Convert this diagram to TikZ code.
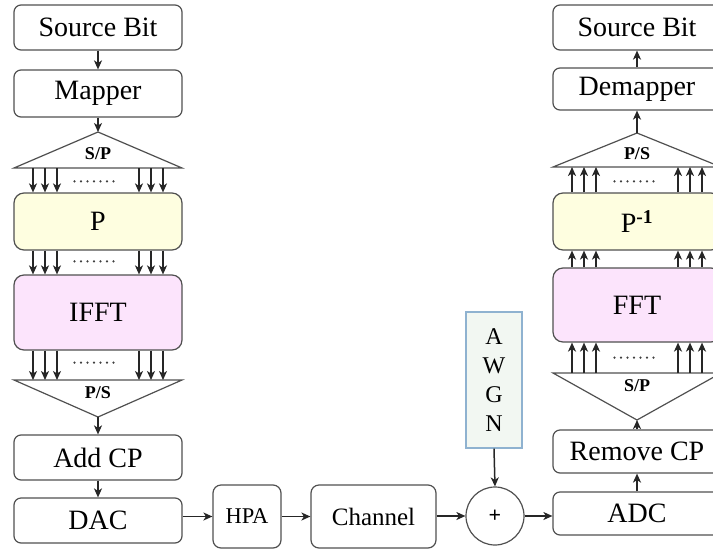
\documentclass[tikz,border=0pt]{standalone}
\usepackage{fontspec}
\setmainfont{Liberation Serif}
\usetikzlibrary{arrows.meta,calc}
\definecolor{bd}{HTML}{505050}
\definecolor{pyel}{HTML}{FEFEE0}
\definecolor{ppink}{HTML}{FCE4FC}
\definecolor{awf}{HTML}{F2F7F2}
\definecolor{awb}{HTML}{8FB2D0}
\begin{document}
\begin{tikzpicture}[x=1pt,y=-1pt,
  box/.style={draw=bd,line width=1.2pt,rounded corners=7pt,minimum width=168pt,inner sep=0pt,font=\fontsize{28}{30}\selectfont},
  sbox/.style={draw=bd,line width=1.2pt,rounded corners=8pt,inner sep=0pt},
  arr/.style={-{Stealth[length=9pt,width=8pt,inset=2.5pt]},line width=1.5pt,black!85},
  tri/.style={draw=bd,line width=1.2pt},
  lbl/.style={font=\bfseries\fontsize{18}{20}\selectfont},
  dotm/.style={fill=black!75,circle,inner sep=0pt,minimum size=2.4pt}]
\useasboundingbox (0,0) rectangle (713,550);
\clip (0,0) rectangle (713,550);
% ---------------- left column
\node[box,minimum height=45pt] (src1) at (98,27.5) {Source Bit};
\node[box,minimum height=47pt] (map) at (98,93.5) {Mapper};
\coordinate (sp1a) at (98,132);
\coordinate (sp1l) at (14,168);
\coordinate (sp1r) at (182,168);
\draw[tri] (sp1l) -- (sp1a) -- (sp1r) -- cycle;
\node[lbl] (sp1t) at (98,154) {S/P};
\node[box,fill=pyel,rounded corners=10pt,minimum height=57pt] (P) at (98,221.5) {P};
\node[box,fill=ppink,rounded corners=10pt,minimum height=75pt] (ifft) at (98,312.5) {IFFT};
\coordinate (ps1a) at (98,417);
\coordinate (ps1l) at (14,380);
\coordinate (ps1r) at (182,380);
\draw[tri] (ps1l) -- (ps1a) -- (ps1r) -- cycle;
\node[lbl] (ps1t) at (98,393) {P/S};
\node[box,minimum height=45pt] (addcp) at (98,457.5) {Add CP};
\node[box,minimum height=45pt] (dac) at (98,520.5) {DAC};
% ---------------- bottom row
\node[sbox,minimum width=68pt,minimum height=63pt,font=\fontsize{22.5}{24}\selectfont] (hpa) at (247,516.5) {HPA};
\node[sbox,minimum width=125pt,minimum height=63pt,font=\fontsize{25}{27}\selectfont] (ch) at (373.5,516.5) {Channel};
\node[circle,draw=bd,line width=1.2pt,minimum size=58pt,inner sep=0pt,font=\bfseries\fontsize{22}{24}\selectfont] (sum) at (495,516) {+};
\node[draw=awb,fill=awf,line width=1.2pt,minimum width=56pt,minimum height=136pt,inner sep=0pt,align=center,font=\fontsize{24}{29}\selectfont] (awgn) at (494,380) {A\\W\\G\\N};
% ---------------- right column
\node[box,minimum height=45pt] (src2) at (637,27.5) {Source Bit};
\node[box,minimum height=42pt] (demap) at (637,89) {Demapper};
\coordinate (ps2a) at (637,133);
\coordinate (ps2l) at (553,167);
\coordinate (ps2r) at (721,167);
\draw[tri] (ps2l) -- (ps2a) -- (ps2r) -- cycle;
\node[lbl] (ps2t) at (637,154) {P/S};
\node[box,fill=pyel,rounded corners=10pt,minimum height=57pt] (Pinv) at (637,221.5) {P\textsuperscript{\bfseries -1}};
\node[box,fill=ppink,rounded corners=10pt,minimum height=74pt] (fft) at (637,305) {FFT};
\coordinate (sp2a) at (637,420);
\coordinate (sp2l) at (553,373);
\coordinate (sp2r) at (721,373);
\draw[tri] (sp2l) -- (sp2a) -- (sp2r) -- cycle;
\node[lbl] (sp2t) at (637,386) {S/P};
\node[box,minimum height=43pt] (remcp) at (637,451.5) {Remove CP};
\node[box,minimum height=43pt] (adc) at (637,513.5) {ADC};
% ---------------- single arrows
\draw[arr] (src1.south) -- (map.north);
\draw[arr] (map.south) -- (sp1a);
\draw[arr] (ps1a) -- (addcp.north);
\draw[arr] (addcp.south) -- (dac.north);
\draw[arr] (dac.east |- hpa.west) -- (hpa.west);
\draw[arr] (hpa.east) -- (ch.west);
\draw[arr] (ch.east |- sum.west) -- (sum.west);
\draw[arr] (awgn.south) -- (sum.north);
\draw[arr] (sum.east) -- (sum.east -| adc.west);
\draw[arr] (adc.north) -- (remcp.south);
\draw[arr] (remcp.north) -- (sp2a);
\draw[arr] (ps2a) -- (demap.south);
\draw[arr] (demap.north) -- (src2.south);
% ---------------- parallel arrows
\foreach \dx in {-65,-53,-41,41,53,65}{
  \draw[arr] ($(P.north |- sp1l)+(\dx,0)$) -- ($(P.north)+(\dx,0)$);
  \draw[arr] ($(P.south)+(\dx,0)$) -- ($(ifft.north)+(\dx,0)$);
  \draw[arr] ($(ifft.south)+(\dx,0)$) -- ($(ifft.south |- ps1l)+(\dx,0)$);
  \draw[arr] ($(fft.south |- sp2l)+(\dx,0)$) -- ($(fft.south)+(\dx,0)$);
  \draw[arr] ($(fft.north)+(\dx,0)$) -- ($(Pinv.south)+(\dx,0)$);
  \draw[arr] ($(Pinv.north)+(\dx,0)$) -- ($(Pinv.north |- ps2l)+(\dx,0)$);
}
% ---------------- dots
\foreach \k in {-3,...,3}{
  \node[dotm] at ($(P.north)+(-4+6.5*\k,-11)$) {};
  \node[dotm] at ($(ifft.north)+(-4+6.5*\k,-13)$) {};
  \node[dotm] at ($(ifft.south)+(-4+6.5*\k,12)$) {};
  \node[dotm] at ($(Pinv.north)+(-3+6.5*\k,-11)$) {};
  \node[dotm] at ($(fft.south)+(-3+6.5*\k,15)$) {};
}
\end{tikzpicture}
\end{document}
